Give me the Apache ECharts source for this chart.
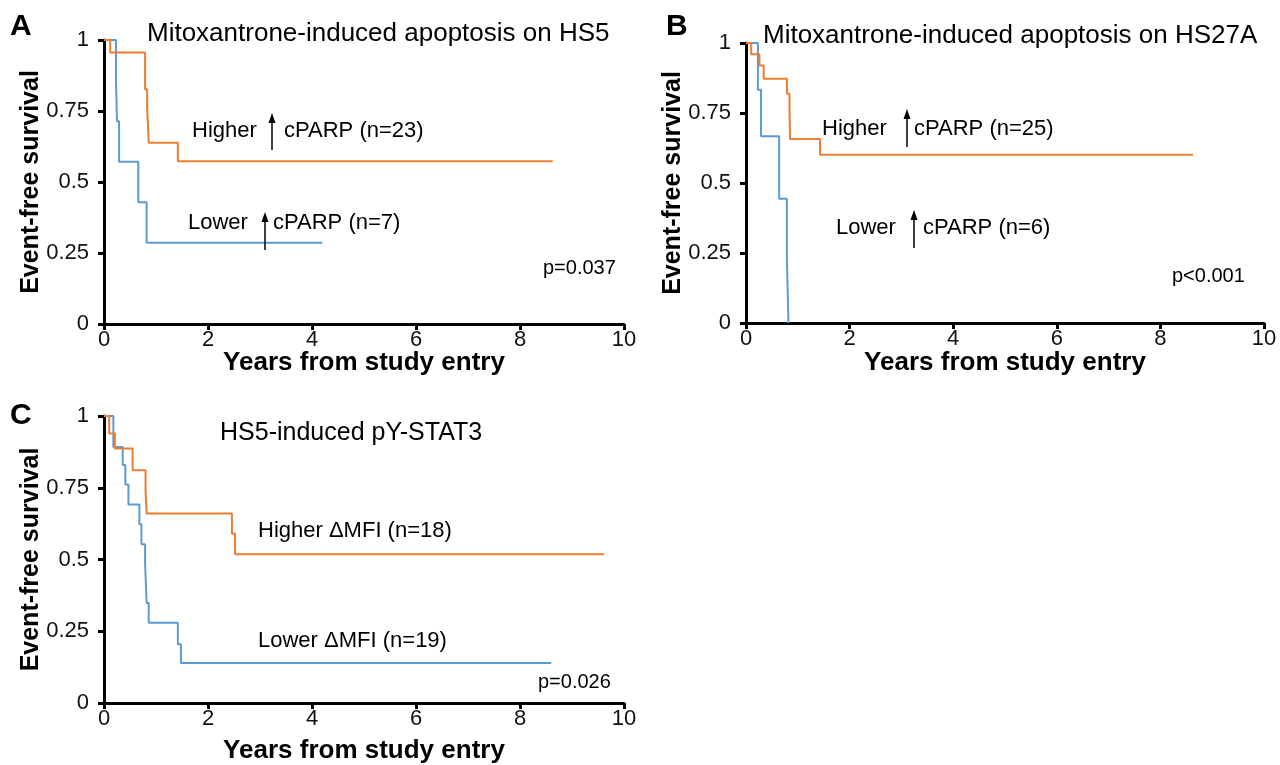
<!DOCTYPE html>
<html>
<head>
<meta charset="utf-8">
<script src="https://cdn.jsdelivr.net/npm/echarts@6/dist/echarts.min.js"></script>
<style>html,body{margin:0;padding:0;background:#fff}#c{width:1280px;height:765px}</style>
</head>
<body>
<div id="c"></div>
<script>
// ---- Data (years, survival) ----
const xTicks = [0, 2, 4, 6, 8, 10];
const yTicks = [0, 0.25, 0.5, 0.75, 1];
// Panel A: Mitoxantrone-induced apoptosis on HS5
const aHigher = [[0,1],[0.12,0.956],[0.79,0.827],[0.83,0.762],[0.86,0.638],[1.42,0.573],[8.63,0.573]];
const aLower  = [[0,1],[0.23,0.857],[0.25,0.714],[0.29,0.571],[0.66,0.429],[0.82,0.286],[4.2,0.286]];
// Panel B: Mitoxantrone-induced apoptosis on HS27A
const bHigher = [[0,1],[0.1,0.96],[0.26,0.92],[0.34,0.872],[0.79,0.819],[0.84,0.764],[0.85,0.657],[1.43,0.601],[8.63,0.601]];
const bLower  = [[0,1],[0.23,0.833],[0.29,0.667],[0.64,0.444],[0.79,0.222],[0.82,0]];
// Panel C: HS5-induced pY-STAT3
const cHigher = [[0,1],[0.1,0.939],[0.21,0.887],[0.55,0.811],[0.80,0.736],[0.82,0.66],[2.46,0.591],[2.52,0.518],[9.62,0.518]];
const cLower  = [[0,1],[0.18,0.892],[0.36,0.829],[0.41,0.761],[0.47,0.692],[0.68,0.623],[0.72,0.553],[0.79,0.487],[0.82,0.348],[0.86,0.28],[1.42,0.205],[1.48,0.139],[8.6,0.139]];

const ORANGE = '#ED7D31', BLUE = '#5B9BD5';
const FONT = 'Liberation Sans';

const grids = [
  {left:104, top:40, width:520, height:284},
  {left:746, top:43, width:518, height:280},
  {left:104, top:416, width:520, height:287}
];

const xAxes = [], yAxes = [];
const xNameGaps = [26, 27, 35];
grids.forEach((g, i) => {
  xAxes.push({
    gridIndex:i, type:'value', min:0, max:10, interval:2,
    name:'Years from study entry', nameLocation:'middle', nameGap:xNameGaps[i],
    nameMoveOverlap:false,
    nameTextStyle:{fontFamily:FONT, fontWeight:'bold', fontSize:26, color:'#000'},
    axisLine:{lineStyle:{color:'#000', width:3}},
    axisTick:{length:6, lineStyle:{color:'#000', width:3}},
    axisLabel:{fontFamily:FONT, fontSize:22, color:'#111', margin:5},
    splitLine:{show:false}
  });
  yAxes.push({
    gridIndex:i, type:'value', min:0, max:1, interval:0.25,
    name:'Event-free survival', nameLocation:'middle', nameGap:60, nameRotate:90,
    nameMoveOverlap:false,
    nameTextStyle:{fontFamily:FONT, fontWeight:'bold', fontSize:25, color:'#000'},
    axisLine:{lineStyle:{color:'#000', width:3}},
    axisTick:{length:6, lineStyle:{color:'#000', width:3}},
    axisLabel:{fontFamily:FONT, fontSize:22, color:'#111', margin:15},
    splitLine:{show:false}
  });
});
// inner half of crossing ticks
grids.forEach((g, i) => {
  xAxes.push({gridIndex:i, type:'value', min:0, max:10, interval:2,
    axisLine:{show:false}, axisLabel:{show:false}, splitLine:{show:false},
    axisTick:{inside:true, length:6, lineStyle:{color:'#000', width:3}}});
  yAxes.push({gridIndex:i, type:'value', min:0, max:1, interval:0.25,
    axisLine:{show:false}, axisLabel:{show:false}, splitLine:{show:false},
    axisTick:{inside:true, length:6, lineStyle:{color:'#000', width:3}}});
});

function km(data, color, idx) {
  return {type:'line', step:'end', data:data, xAxisIndex:idx, yAxisIndex:idx,
    showSymbol:false, symbol:'none', silent:true,
    lineStyle:{color:color, width:2}, z:3};
}

function txt(text, x, y, size, bold) {
  return {type:'text', style:{text:text, x:x, y:y, fill:'#000',
    font:(bold?'bold ':'') + size + 'px "' + FONT + '"',
    textVerticalAlign:'middle', verticalAlign:'middle', textAlign:'left', align:'left'}, z:10};
}
function arrow(x, y1, y2) {
  return [
    {type:'line', shape:{x1:x, y1:y1+8, x2:x, y2:y2}, style:{stroke:'#000', lineWidth:1.5}, z:10},
    {type:'polygon', shape:{points:[[x-3.5,y1+10],[x+3.5,y1+10],[x,y1]]}, style:{fill:'#000'}, z:10}
  ];
}

const graphics = [
  txt('A', 10, 27, 30, true),
  txt('B', 666, 27, 30, true),
  txt('C', 10, 416, 30, true),
  txt('Mitoxantrone-induced apoptosis on HS5', 147, 34, 26, false),
  txt('Mitoxantrone-induced apoptosis on HS27A', 763, 36, 26, false),
  txt('HS5-induced pY-STAT3', 220, 433, 25, false),
  txt('Higher', 192, 131, 22, false),
  txt('cPARP (n=23)', 284, 131, 22, false),
  txt('Lower', 188, 223, 22, false),
  txt('cPARP (n=7)', 273, 223, 22, false),
  txt('Higher', 822, 129, 22, false),
  txt('cPARP (n=25)', 914, 129, 22, false),
  txt('Lower', 836, 228, 22, false),
  txt('cPARP (n=6)', 923, 228, 22, false),
  txt('Higher \u0394MFI (n=18)', 258, 531, 22, false),
  txt('Lower \u0394MFI (n=19)', 258, 641, 22, false),
  txt('p=0.037', 543, 268, 20, false),
  txt('p<0.001', 1172, 276, 20, false),
  txt('p=0.026', 538, 682, 20, false)
].concat(arrow(272, 113, 150), arrow(265, 212, 250), arrow(907, 109, 147), arrow(914, 210, 248));

const chart = echarts.init(document.getElementById('c'), null, {renderer:'canvas'});
chart.setOption({
  animation:false,
  backgroundColor:'#fff',
  grid:grids,
  xAxis:xAxes,
  yAxis:yAxes,
  series:[
    km(aLower, BLUE, 0), km(aHigher, ORANGE, 0),
    km(bLower, BLUE, 1), km(bHigher, ORANGE, 1),
    km(cLower, BLUE, 2), km(cHigher, ORANGE, 2)
  ],
  graphic:graphics
});
</script>
</body>
</html>
